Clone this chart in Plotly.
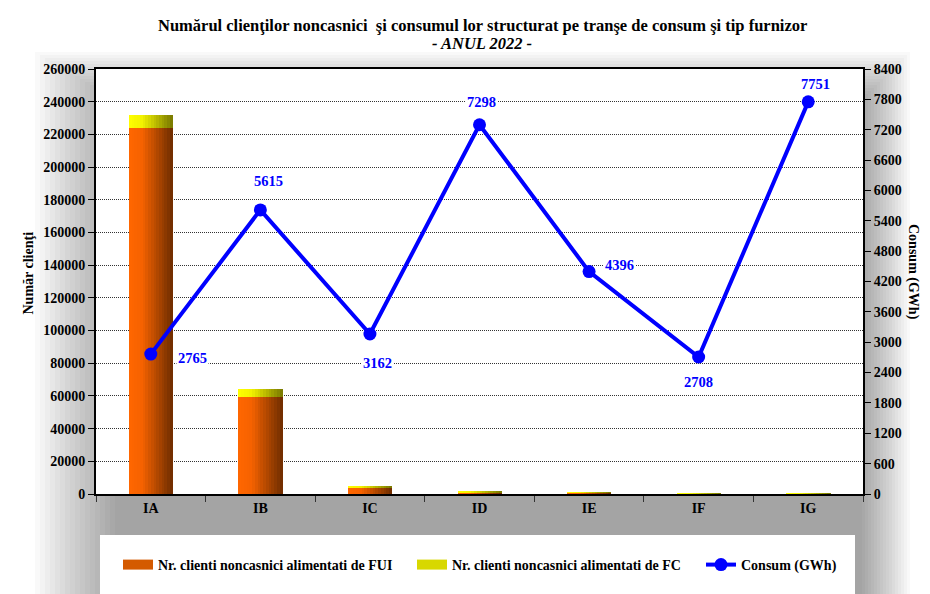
import plotly.graph_objects as go

# ---- data ----
categories = ["IA", "IB", "IC", "ID", "IE", "IF", "IG"]
clienti_fui = [223700, 59300, 4000, 1200, 650, 200, 150]
clienti_fc = [8100, 5000, 1050, 800, 30, 400, 60]
consum_gwh = [2765, 5615, 3162, 7298, 4396, 2708, 7751]
left_ticks = list(range(0, 260001, 20000))
right_ticks = list(range(0, 8401, 600))

# label offsets (px) for the consumption values
label_dx = [42, 8, 8, 2, 30, 0, 7]
label_dy = [-4, 29, -29, 23, 7, -25, 18]

# ---- geometry of the plotting area (px) ----
W, H = 930, 594
L, R, T, B = 96, 863, 69, 494
PW, PH = R - L, B - T


def px(xp):
    return (xp - L) / PW


def py(yp):
    return (B - yp) / PH


FONT = "Liberation Serif"

fig = go.Figure()

# ---- gradient bars built from narrow slices ----
bar_w = 0.40
n_slices = 16
step = bar_w / n_slices


def lerp_stops(stops, t):
    for (t0, c0), (t1, c1) in zip(stops, stops[1:]):
        if t <= t1:
            u = (t - t0) / (t1 - t0) if t1 > t0 else 0
            return tuple(int(round(a + (b - a) * u)) for a, b in zip(c0, c1))
    return stops[-1][1]


fui_stops = [(0.0, (255, 102, 0)), (0.3, (245, 98, 0)), (1.0, (110, 45, 0))]
fc_stops = [(0.0, (255, 255, 0)), (0.3, (242, 242, 0)), (1.0, (120, 120, 0))]

for i in range(n_slices):
    t = (i + 0.5) / n_slices
    c = lerp_stops(fui_stops, t)
    fig.add_trace(go.Bar(
        x=categories, y=clienti_fui, base=0,
        offset=-bar_w / 2 + i * step, width=step * 1.15,
        marker=dict(color=f"rgb{c}", line=dict(width=0)),
        showlegend=False, hoverinfo="skip", yaxis="y",
    ))
for i in range(n_slices):
    t = (i + 0.5) / n_slices
    c = lerp_stops(fc_stops, t)
    fig.add_trace(go.Bar(
        x=categories, y=clienti_fc, base=clienti_fui,
        offset=-bar_w / 2 + i * step, width=step * 1.15,
        marker=dict(color=f"rgb{c}", line=dict(width=0)),
        showlegend=False, hoverinfo="skip", yaxis="y",
    ))

# ---- consumption line ----
fig.add_trace(go.Scatter(
    x=categories, y=consum_gwh, yaxis="y2", mode="lines+markers",
    line=dict(color="#0000FF", width=4),
    marker=dict(color="#0000FF", size=13),
    name="Consum (GWh)", legend="legend3",
))

# legend swatches for the bar series
fig.add_trace(go.Scatter(
    x=[None], y=[None], mode="lines", line=dict(color="#D45A00", width=10),
    name="Nr. clienti noncasnici alimentati de FUI", legend="legend",
))
fig.add_trace(go.Scatter(
    x=[None], y=[None], mode="lines", line=dict(color="#D8D800", width=10),
    name="Nr. clienti noncasnici alimentati de FC", legend="legend2",
))

# ---- value labels ----
for cat, v, dx, dy in zip(categories, consum_gwh, label_dx, label_dy):
    fig.add_annotation(
        x=cat, y=v, xref="x", yref="y2", text=f"<b>{v}</b>", showarrow=False,
        xshift=dx, yshift=dy, bgcolor="white", borderpad=1,
        font=dict(family=FONT, size=14.5, color="#0000FF"),
    )

# ---- titles ----
fig.add_annotation(
    x=px(482), y=py(14), xref="paper", yref="paper", showarrow=False,
    text="<b>Numărul clienţilor noncasnici  şi consumul lor structurat pe tranşe de consum şi tip furnizor</b>",
    font=dict(family=FONT, size=16.5, color="black"),
)
fig.add_annotation(
    x=px(482), y=py(32), xref="paper", yref="paper", showarrow=False,
    text="<b><i>- ANUL 2022 -</i></b>",
    font=dict(family=FONT, size=16.5, color="black"),
)
fig.add_annotation(
    x=px(18), y=py(273), xref="paper", yref="paper", showarrow=False,
    text="<b>Număr clienţi</b>", textangle=-90,
    font=dict(family=FONT, size=14, color="black"),
)
fig.add_annotation(
    x=px(923), y=py(272), xref="paper", yref="paper", showarrow=False,
    text="<b>Consum (GWh)</b>", textangle=90,
    font=dict(family=FONT, size=14, color="black"),
)

# ---- soft grey shadow around the chart ----
shapes = []
n_glow = 16
alpha = 0.022
core = (115, 100, 862, 640)
dl, du, dr, dd = 5.0, 3.0, 3.0, 4.0
for k in range(n_glow, -1, -1):
    shapes.append(dict(
        type="rect", xref="paper", yref="paper", layer="below",
        x0=px(core[0] - k * dl), x1=px(core[2] + k * dr),
        y0=py(core[3] + k * dd), y1=py(core[1] - k * du),
        fillcolor=f"rgba(0,0,0,{alpha})", line=dict(width=0),
    ))
# legend panel
shapes.append(dict(
    type="rect", xref="paper", yref="paper", layer="below",
    x0=px(100), x1=px(855), y0=py(640), y1=py(535),
    fillcolor="white", line=dict(width=0),
))
# plotting area
shapes.append(dict(
    type="rect", xref="paper", yref="paper", layer="below",
    x0=0, x1=1, y0=0, y1=1, fillcolor="white", line=dict(width=0),
))

tick_font = dict(family=FONT, size=14, color="black", weight="bold")
legend_common = dict(
    orientation="h", yanchor="middle", xanchor="left", y=py(565),
    bgcolor="rgba(0,0,0,0)", borderwidth=0,
    font=dict(family=FONT, size=14, color="black", weight="bold"),
    itemwidth=30,
)

fig.update_layout(
    width=W, height=H,
    margin=dict(l=L, r=W - R, t=T, b=H - B, pad=0),
    paper_bgcolor="white", plot_bgcolor="white",
    barmode="overlay", bargap=0,
    shapes=shapes,
    xaxis=dict(
        type="category", categoryorder="array", categoryarray=categories,
        showline=True, linecolor="black", linewidth=2, mirror=True,
        ticks="outside", tickson="boundaries", ticklen=6, tickcolor="#333",
        tickfont=tick_font, showgrid=False, zeroline=False,
        range=[-0.5, 6.5],
    ),
    yaxis=dict(
        range=[0, 260000], tickvals=left_ticks, ticktext=[str(v) for v in left_ticks],
        showline=True, linecolor="black", linewidth=2, mirror=True,
        ticks="outside", ticklen=6, tickcolor="black",
        tickfont=tick_font, showgrid=True, gridcolor="#333",
        griddash="1px,1px", gridwidth=1, zeroline=False,
    ),
    yaxis2=dict(
        range=[0, 8400], tickvals=right_ticks, ticktext=[str(v) for v in right_ticks],
        overlaying="y", side="right",
        showline=True, linecolor="black", linewidth=2,
        ticks="outside", ticklen=6, tickcolor="black",
        tickfont=tick_font, showgrid=False, zeroline=False,
    ),
    legend=dict(legend_common, x=px(118)),
    legend2=dict(legend_common, x=px(412)),
    legend3=dict(legend_common, x=px(701)),
    hovermode=False,
)

fig.write_html("out.html")
